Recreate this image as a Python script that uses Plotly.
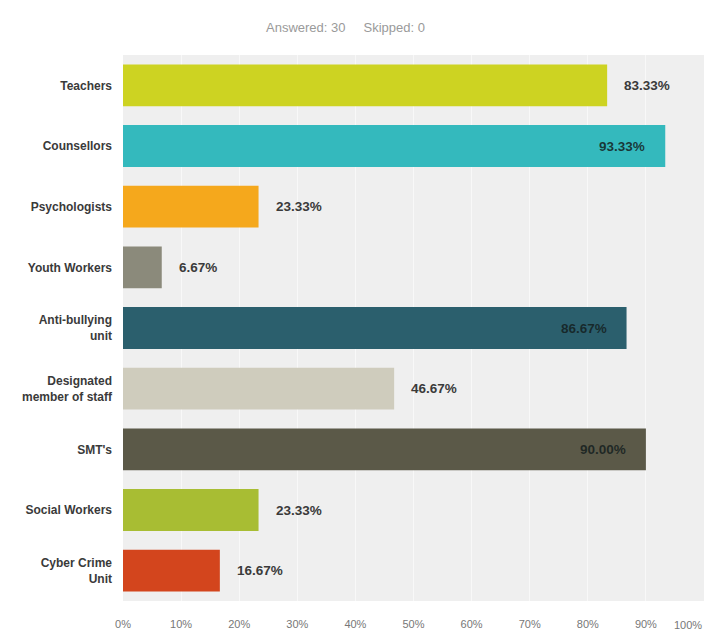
import plotly.graph_objects as go

# Survey responses: share of respondents choosing each option
categories = [
    "Teachers",
    "Counsellors",
    "Psychologists",
    "Youth Workers",
    "Anti-bullying<br>unit",
    "Designated<br>member of staff",
    "SMT's",
    "Social Workers",
    "Cyber Crime<br>Unit",
]
percentages = [83.33, 93.33, 23.33, 6.67, 86.67, 46.67, 90.00, 23.33, 16.67]
bar_colors = [
    "#cdd322", "#34b9bd", "#f5a81c", "#8b8a7b", "#2b5f6d",
    "#cfccbd", "#5b5948", "#a8bd33", "#d3451d",
]
tick_values = [0, 10, 20, 30, 40, 50, 60, 70, 80, 90]
tick_labels = ["0%", "10%", "20%", "30%", "40%", "50%", "60%", "70%", "80%", "90%"]
answered = 30
skipped = 0

FONT = "Liberation Sans, Arial, sans-serif"

fig = go.Figure(
    go.Bar(
        x=percentages,
        y=categories,
        orientation="h",
        marker=dict(color=bar_colors, line=dict(width=0)),
        hovertemplate="%{y}: %{x:.2f}%<extra></extra>",
    )
)

# Value labels: inside the bar end for long bars, just past the end otherwise
for cat, val in zip(categories, percentages):
    inside = val >= 85
    fig.add_annotation(
        x=val, y=cat, xref="x", yref="y",
        text=f"<b>{val:.2f}%</b>",
        showarrow=False,
        xanchor="right" if inside else "left",
        xshift=-18 if inside else 15,
        font=dict(family=FONT, size=13.5,
                  color="rgba(20,30,30,0.85)" if inside else "#3a3a3a"),
    )

# Last axis label pinned to the right edge of the plot
fig.add_annotation(
    x=100, y=0, xref="x", yref="paper", yshift=-16,
    text="100%", showarrow=False, xanchor="right", yanchor="top",
    font=dict(family=FONT, size=11, color="#777"),
)

fig.add_annotation(
    x=0.5, y=1, xref="paper", yref="paper", xshift=-68, yshift=37,
    text=f"Answered: {answered}     Skipped: {skipped}",
    showarrow=False,
    font=dict(family=FONT, size=13, color="#9a9a9a"),
)

fig.update_layout(
    width=707,
    height=633,
    margin=dict(l=123, r=3, t=55, b=27),
    paper_bgcolor="white",
    plot_bgcolor="#efefef",
    bargap=0.31,
    showlegend=False,
    font=dict(family=FONT),
    xaxis=dict(
        range=[0, 100],
        tickvals=tick_values,
        ticktext=tick_labels,
        showgrid=True,
        gridcolor="#f8f8f8",
        gridwidth=1,
        zeroline=False,
        showline=False,
        ticks="",
        ticklabelstandoff=15,
        tickfont=dict(size=11, color="#777"),
        fixedrange=True,
    ),
    yaxis=dict(
        autorange="reversed",
        showgrid=False,
        showline=False,
        ticks="",
        ticklabelstandoff=10,
        tickfont=dict(size=12, color="#3a3a3a", weight="bold"),
        fixedrange=True,
    ),
)

fig.write_html("out.html")
